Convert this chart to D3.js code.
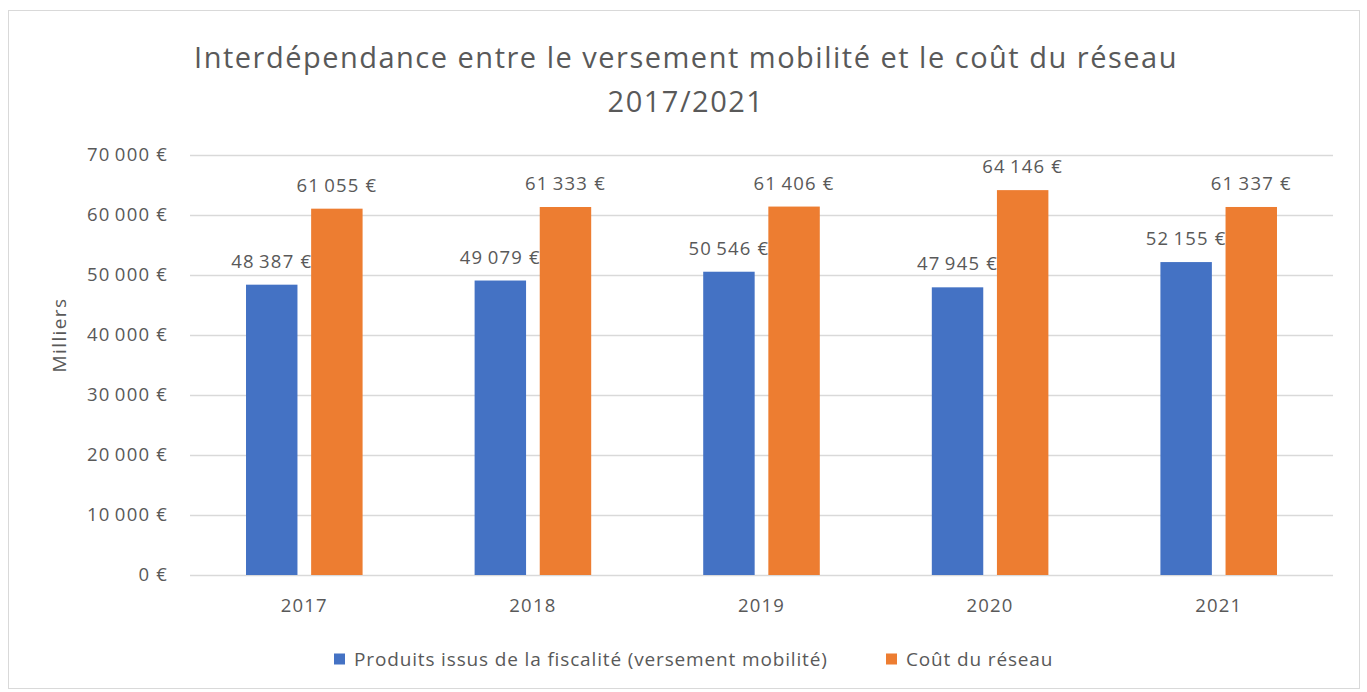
<!DOCTYPE html>
<html>
<head>
<meta charset="utf-8">
<script src="https://cdn.jsdelivr.net/npm/d3@7"></script>
<style>
  body { margin: 0; background: #fff; }
  svg text { font-family: "Open Sans", Lato, sans-serif; fill: #595959; }
</style>
</head>
<body>
<div id="chart"></div>
<script>
// chart data
const years = ["2017", "2018", "2019", "2020", "2021"];
const seriesNames = ["Produits issus de la fiscalité (versement mobilité)", "Coût du réseau"];
const fiscalite = [48387, 49079, 50546, 47945, 52155];
const coutReseau = [61055, 61333, 61406, 64146, 61337];
const yTicks = [0, 10000, 20000, 30000, 40000, 50000, 60000, 70000];
const colors = ["#4472C4", "#ED7D31"];

const width = 1367;
const height = 692;
const plot = { left: 190, right: 1333, top: 155, bottom: 575 };

const fr = d3.formatLocale({
  decimal: ",",
  thousands: "\u2009",
  grouping: [3],
  currency: ["", "\u00a0€"],
});
const fmt = (v) => fr.format("$,.0f")(v);

const svg = d3
  .select("#chart")
  .append("svg")
  .attr("width", width)
  .attr("height", height);

// chart frame
svg
  .append("rect")
  .attr("x", 8.5)
  .attr("y", 10.5)
  .attr("width", 1351)
  .attr("height", 678)
  .attr("fill", "#fff")
  .attr("stroke", "#d9d9d9");

const x = d3.scaleBand().domain(years).range([plot.left, plot.right]);
const x1 = d3
  .scaleBand()
  .domain([0, 1])
  .range([0, x.bandwidth()])
  .paddingInner(0.21)
  .paddingOuter(0.86);
const y = d3.scaleLinear().domain([0, 70000]).range([plot.bottom, plot.top]);

// gridlines + y labels
const yAxis = d3
  .axisLeft(y)
  .tickValues(yTicks)
  .tickSize(-(plot.right - plot.left))
  .tickPadding(22)
  .tickFormat(fmt);

svg
  .append("g")
  .attr("transform", `translate(${plot.left},0)`)
  .call(yAxis)
  .call((g) => g.select(".domain").remove())
  .call((g) => g.selectAll("line").attr("stroke", "#d9d9d9").attr("stroke-width", 1.5))
  .call((g) =>
    g
      .selectAll("text")
      .attr("font-size", 18.5)
      .attr("letter-spacing", 1.2)
      .style("font-family", null)
  );

// x labels
const xAxis = d3.axisBottom(x).tickSize(0).tickPadding(24);
svg
  .append("g")
  .attr("transform", `translate(0,${plot.bottom})`)
  .call(xAxis)
  .call((g) => g.select(".domain").remove())
  .call((g) =>
    g
      .selectAll("text")
      .attr("font-size", 18.5)
      .attr("letter-spacing", 1.2)
      .style("font-family", null)
  );

// bars and value labels, series by series so the orange bar sits over blue labels
[fiscalite, coutReseau].forEach((values, s) => {
  const rows = years.map((yr, i) => ({ year: yr, value: values[i] }));

  svg
    .append("g")
    .selectAll("rect")
    .data(rows)
    .join("rect")
    .attr("x", (d) => x(d.year) + x1(s))
    .attr("y", (d) => y(d.value))
    .attr("width", x1.bandwidth())
    .attr("height", (d) => y(0) - y(d.value))
    .attr("fill", colors[s]);

  svg
    .append("g")
    .selectAll("text")
    .data(rows)
    .join("text")
    .attr("x", (d) => x(d.year) + x1(s) + x1.bandwidth() / 2)
    .attr("y", (d) => y(d.value) - 17)
    .attr("text-anchor", "middle")
    .attr("font-size", 18.5)
    .attr("letter-spacing", 1.2)
    .text((d) => fmt(d.value));
});

// y axis title
svg
  .append("text")
  .attr("transform", "translate(66,335) rotate(-90)")
  .attr("text-anchor", "middle")
  .attr("font-size", 19)
  .attr("letter-spacing", 1.4)
  .text("Milliers");

// title
const title = svg
  .append("text")
  .attr("x", 686)
  .attr("text-anchor", "middle")
  .attr("font-size", 29)
  .attr("letter-spacing", 1.5);
title
  .append("tspan")
  .attr("x", 686)
  .attr("y", 68)
  .text("Interdépendance entre le versement mobilité et le coût du réseau");
title.append("tspan").attr("x", 686).attr("y", 112).text("2017/2021");

// legend
const legendX = [334, 886];
const legend = svg
  .append("g")
  .selectAll("g")
  .data(seriesNames)
  .join("g")
  .attr("transform", (d, i) => `translate(${legendX[i]},659)`);

legend
  .append("rect")
  .attr("x", 0)
  .attr("y", -5.5)
  .attr("width", 11)
  .attr("height", 11)
  .attr("fill", (d, i) => colors[i]);

legend
  .append("text")
  .attr("x", 20)
  .attr("y", 7)
  .attr("font-size", 19)
  .attr("letter-spacing", 0.85)
  .text((d) => d);
</script>
</body>
</html>
